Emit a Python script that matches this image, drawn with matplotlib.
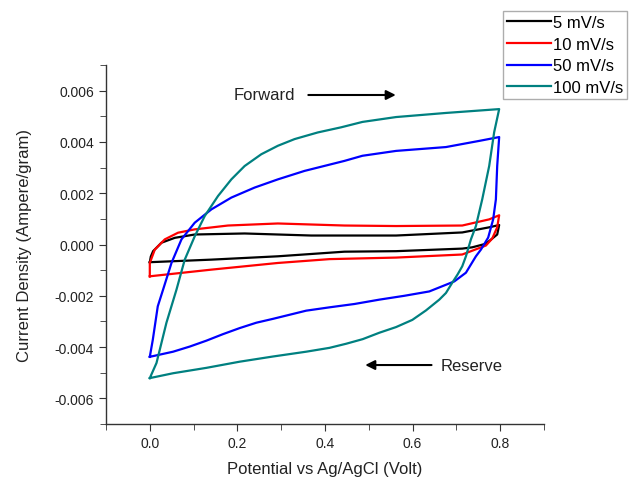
import numpy as np
import matplotlib.pyplot as plt
from matplotlib.ticker import MultipleLocator

plt.rcParams['font.family'] = ['Liberation Sans', 'DejaVu Sans']

v_5 = [0, 0.0023, 0.0075, 0.0267, 0.057, 0.1026, 0.2165, 0.3685, 0.5623, 0.7134, 0.7749, 0.7977,
       0.7932, 0.7674, 0.7362, 0.7134, 0.5623, 0.4444, 0.2924, 0.1406, 0]
i_5 = [-0.69, -0.47, -0.26, 0.07, 0.26, 0.39, 0.43, 0.35, 0.35, 0.47, 0.67, 0.76,
       0.39, 0.03, -0.11, -0.16, -0.26, -0.28, -0.46, -0.59, -0.69]

v_10 = [0, 0, 0.0114, 0.0342, 0.0645, 0.1026, 0.1785, 0.2924, 0.4444, 0.5623, 0.7134, 0.7749, 0.7977,
        0.7932, 0.7818, 0.7674, 0.7134, 0.5623, 0.4103, 0.2924, 0.1406, 0]
i_10 = [-1.24, -0.72, -0.20, 0.20, 0.46, 0.59, 0.74, 0.82, 0.74, 0.72, 0.74, 0.98, 1.14,
        0.67, 0.23, -0.04, -0.39, -0.51, -0.57, -0.72, -0.98, -1.24]

v_50 = [0, 0.0068, 0.0182, 0.0303, 0.0495, 0.0723, 0.1026, 0.1406, 0.1862, 0.2393, 0.2924, 0.3533,
        0.4444, 0.4855, 0.5623, 0.6762, 0.7521, 0.7977,
        0.7932, 0.7902, 0.784, 0.7726, 0.756, 0.7446, 0.7218, 0.6952, 0.6382, 0.5812, 0.5242, 0.4672,
        0.4103, 0.3571, 0.3191, 0.281, 0.2432, 0.2051, 0.1664, 0.1292, 0.0912, 0.0532, 0]
i_50 = [-4.38, -3.72, -2.41, -1.76, -0.72, 0.20, 0.85, 1.37, 1.83, 2.22, 2.54, 2.87,
        3.26, 3.46, 3.65, 3.80, 4.04, 4.19,
        3.06, 1.76, 0.98, 0.27, -0.20, -0.46, -1.10, -1.44, -1.83, -2.00, -2.15, -2.32,
        -2.45, -2.58, -2.74, -2.90, -3.05, -3.26, -3.50, -3.75, -3.98, -4.18, -4.38]

v_100 = [0, 0.0153, 0.038, 0.0609, 0.0798, 0.1026, 0.1254, 0.1557, 0.1862, 0.2165, 0.2546, 0.2924,
         0.3305, 0.3836, 0.4369, 0.4855, 0.5623, 0.6762, 0.7977,
         0.7863, 0.7749, 0.759, 0.7446, 0.7332, 0.7218, 0.7134, 0.7027, 0.6906, 0.6762, 0.661,
         0.6306, 0.5994, 0.5623, 0.5242, 0.4862, 0.4483, 0.4103, 0.3571, 0.2803, 0.2051, 0.1292,
         0.0532, 0]
i_100 = [-5.21, -4.62, -3.05, -1.76, -0.59, 0.32, 1.11, 1.89, 2.54, 3.06, 3.52, 3.85,
         4.11, 4.37, 4.57, 4.78, 4.97, 5.13, 5.28,
         4.38, 3.06, 1.76, 0.72, 0.20, -0.46, -0.85, -1.17, -1.49, -1.89, -2.15,
         -2.57, -2.94, -3.22, -3.44, -3.69, -3.87, -4.03, -4.18, -4.37, -4.57, -4.81,
         -5.02, -5.21]

labels = ['5 mV/s', '10 mV/s', '50 mV/s', '100 mV/s']
colors = ['black', '#ff0000', '#0000ff', '#008080']

fig = plt.figure(figsize=(6.34, 4.81), dpi=100)
ax = fig.add_axes([0.1672, 0.1164, 0.6908, 0.7464])

series = [(v_5, i_5), (v_10, i_10), (v_50, i_50), (v_100, i_100)]
handles = []
for (v, i), lab, c in zip(series, labels, colors):
    h, = ax.plot(v, np.array(i) / 1000, color=c, lw=1.6, label=lab)
    handles.append(h)

ax.set_xlim(-0.1, 0.9)
ax.set_ylim(-0.007, 0.007)
ax.xaxis.set_major_locator(MultipleLocator(0.2))
ax.xaxis.set_minor_locator(MultipleLocator(0.1))
ax.yaxis.set_major_locator(MultipleLocator(0.002))
ax.yaxis.set_minor_locator(MultipleLocator(0.001))
ax.xaxis.set_major_formatter(lambda x, p: f'{x:.1f}')
ax.yaxis.set_major_formatter(lambda y, p: f'{y:.3f}')

for s in ['top', 'right']:
    ax.spines[s].set_visible(False)
for s in ['left', 'bottom']:
    ax.spines[s].set_color('#333333')
    ax.spines[s].set_linewidth(1.0)
ax.tick_params(which='both', direction='out', colors='#333333', labelcolor='#222222', labelsize=10)
ax.tick_params(which='major', length=5)
ax.tick_params(which='minor', length=4)

ax.set_xlabel('Potential vs Ag/AgCl (Volt)', fontsize=12, color='#222222', labelpad=8)
ax.set_ylabel('Current Density (Ampere/gram)', fontsize=12, color='#222222', labelpad=16)

ax.annotate('', xy=(0.568, 0.00583), xytext=(0.3556, 0.00583),
            arrowprops=dict(arrowstyle='-|>', color='black', lw=1.5, mutation_scale=14))
ax.text(0.261, 0.00583, 'Forward', ha='center', va='center', fontsize=12, color='#222222')
ax.annotate('', xy=(0.4855, -0.0047), xytext=(0.6496, -0.0047),
            arrowprops=dict(arrowstyle='-|>', color='black', lw=1.5, mutation_scale=14))
ax.text(0.6648, -0.0047, 'Reserve', ha='left', va='center', fontsize=12, color='#222222')

leg = fig.legend(handles=handles, loc='upper left', bbox_to_anchor=(503 / 634, 1 - 12 / 481),
                 fontsize=12, frameon=True, fancybox=False, handlelength=2.6,
                 handletextpad=0.15, labelspacing=0.4, borderpad=0.25, borderaxespad=0)
leg.get_frame().set_edgecolor('#999999')
leg.get_frame().set_linewidth(1.0)

fig.savefig('out.png', dpi=100)
